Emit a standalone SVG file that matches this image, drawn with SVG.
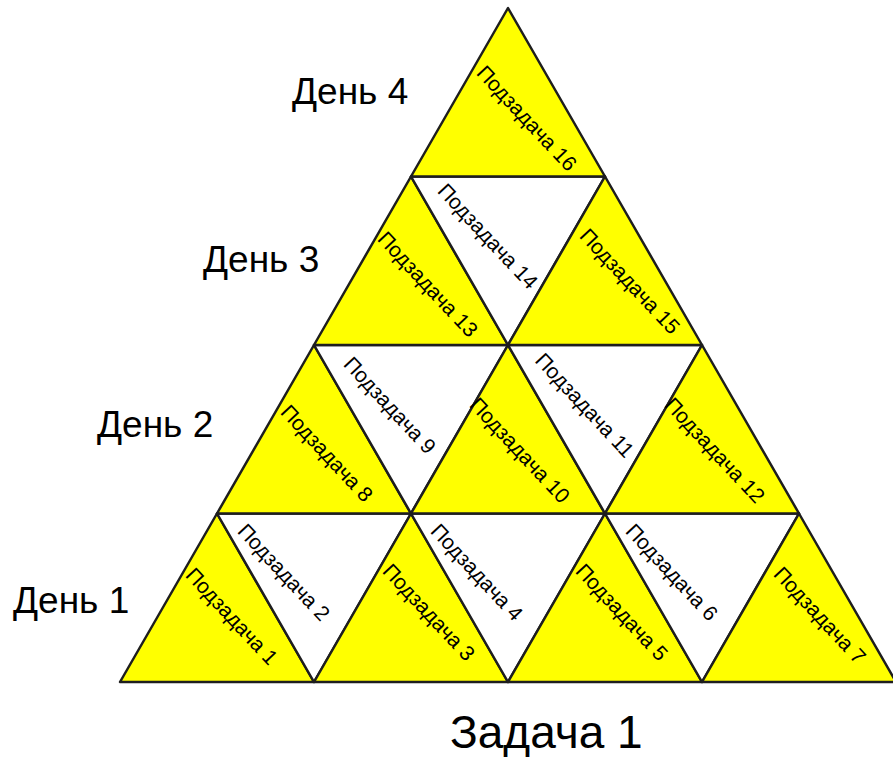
<svg xmlns="http://www.w3.org/2000/svg" width="893" height="757" viewBox="0 0 893 757">
<style>
.y{fill:#ffff00;stroke:#1e1e1e;stroke-width:2.5;stroke-linejoin:round}
.w{fill:#ffffff;stroke:#1e1e1e;stroke-width:2.5;stroke-linejoin:round}
.t{font-family:"Liberation Sans",Arial,sans-serif;font-size:21px;fill:#000;text-anchor:middle;dominant-baseline:central}
.d{font-family:"Liberation Sans",Arial,sans-serif;font-size:37px;fill:#000}
</style>
<rect width="893" height="757" fill="#ffffff"/>
<g id="row1">
<g id="t1"><polygon class="y" points="217,513.5 120,682 314,682"/><text class="t" transform="translate(232,616) rotate(47)">Подзадача 1</text></g>
<g id="t2"><polygon class="w" points="217,513.5 411,513.5 314,682"/><text class="t" transform="translate(284,572) rotate(47)">Подзадача 2</text></g>
<g id="t3"><polygon class="y" points="411,513.5 314,682 508,682"/><text class="t" transform="translate(429,612) rotate(47)">Подзадача 3</text></g>
<g id="t4"><polygon class="w" points="411,513.5 605,513.5 508,682"/><text class="t" transform="translate(477,572) rotate(47)">Подзадача 4</text></g>
<g id="t5"><polygon class="y" points="605,513.5 508,682 702,682"/><text class="t" transform="translate(622,612) rotate(47)">Подзадача 5</text></g>
<g id="t6"><polygon class="w" points="605,513.5 799,513.5 702,682"/><text class="t" transform="translate(672,572) rotate(47)">Подзадача 6</text></g>
<g id="t7"><polygon class="y" points="799,513.5 702,682 896,682"/><text class="t" transform="translate(820,615) rotate(47)">Подзадача 7</text></g>
</g>
<g id="row2">
<g id="t8"><polygon class="y" points="314,345 217,513.5 411,513.5"/><text class="t" transform="translate(327,453) rotate(47)">Подзадача 8</text></g>
<g id="t9"><polygon class="w" points="314,345 508,345 411,513.5"/><text class="t" transform="translate(390,405) rotate(47)">Подзадача 9</text></g>
<g id="t10"><polygon class="y" points="508,345 411,513.5 605,513.5"/><text class="t" transform="translate(520,450) rotate(47)">Подзадача 10</text></g>
<g id="t11"><polygon class="w" points="508,345 702,345 605,513.5"/><text class="t" transform="translate(585,405) rotate(47)">Подзадача 11</text></g>
<g id="t12"><polygon class="y" points="702,345 605,513.5 799,513.5"/><text class="t" transform="translate(715,450) rotate(47)">Подзадача 12</text></g>
</g>
<g id="row3">
<g id="t13"><polygon class="y" points="411,176.5 314,345 508,345"/><text class="t" transform="translate(428,284) rotate(47)">Подзадача 13</text></g>
<g id="t14"><polygon class="w" points="411,176.5 605,176.5 508,345"/><text class="t" transform="translate(488,236) rotate(47)">Подзадача 14</text></g>
<g id="t15"><polygon class="y" points="605,176.5 508,345 702,345"/><text class="t" transform="translate(630,281) rotate(47)">Подзадача 15</text></g>
</g>
<g id="row4">
<g id="t16"><polygon class="y" points="508,8 411,176.5 605,176.5"/><text class="t" transform="translate(527,118) rotate(47)">Подзадача 16</text></g>
</g>
<g id="labels">
<text class="d" x="292" y="104">День 4</text>
<text class="d" x="203" y="272">День 3</text>
<text class="d" x="97" y="437">День 2</text>
<text class="d" x="13" y="613">День 1</text>
<text x="450" y="748" style="font-family:'Liberation Sans',Arial,sans-serif;font-size:46px;fill:#000">Задача 1</text>
</g>
</svg>
